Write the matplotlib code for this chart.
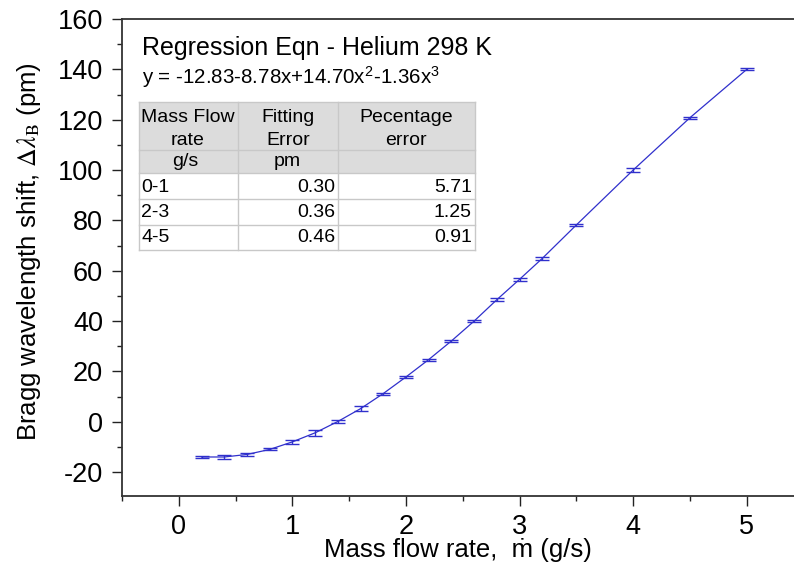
import matplotlib
matplotlib.use("Agg")
import matplotlib.pyplot as plt
from matplotlib.patches import Rectangle
from matplotlib.ticker import MultipleLocator

plt.rcParams['font.family'] = ['Liberation Sans', 'DejaVu Sans']
plt.rcParams['mathtext.fontset'] = 'stix'
plt.rcParams['axes.unicode_minus'] = False

# ---- data ----
mass_flow = [0.2, 0.4, 0.6, 0.8, 1.0, 1.2, 1.4, 1.6, 1.8, 2.0,
             2.2, 2.4, 2.6, 2.8, 3.0, 3.2, 3.5, 4.0, 4.5, 5.0]
shift = [-14.0, -14.0, -13.0, -11.0, -8.0, -4.4, 0.1, 5.2, 11.2, 17.8,
         24.7, 32.1, 40.0, 48.5, 56.6, 64.9, 78.2, 100.0, 120.8, 140.0]
err = [0.3, 0.9, 0.5, 0.4, 0.7, 1.3, 0.5, 0.9, 0.4, 0.4,
       0.4, 0.4, 0.4, 0.5, 0.7, 0.6, 0.5, 0.8, 0.4, 0.4]

title_txt = "Regression Eqn - Helium 298 K"
eqn_txt = r"y = -12.83-8.78x+14.70x$^{\mathdefault{2}}$-1.36x$^{\mathdefault{3}}$"
table_header1 = ["Mass Flow", "Fitting", "Pecentage"]
table_header2 = ["rate", "Error", "error"]
table_units = ["g/s", "pm", ""]
table_ranges = ["0-1", "2-3", "4-5"]
table_fit_err = ["0.30", "0.36", "0.46"]
table_pct_err = ["5.71", "1.25", "0.91"]

W, H = 794, 571
fig = plt.figure(figsize=(W / 100, H / 100), dpi=100)

def fx(px):
    return px / W

def fy(py):
    return 1 - py / H

ax_left, ax_top, ax_bottom = 122, 19, 496
ax_w = 681.6
ax = fig.add_axes([fx(ax_left), fy(ax_bottom), ax_w / W, (ax_bottom - ax_top) / H])

col = '#3030cc'
ax.plot(mass_flow, shift, color=col, lw=0.9)
ax.errorbar(mass_flow, shift, yerr=err, fmt='none', ecolor=col, elinewidth=1.0,
            capsize=5, capthick=1.0)

ax.set_xlim(-0.5, 5.5)
ax.set_ylim(-29.5, 160)
ax.xaxis.set_major_locator(MultipleLocator(1))
ax.xaxis.set_minor_locator(MultipleLocator(0.5))
ax.yaxis.set_major_locator(MultipleLocator(20))
ax.yaxis.set_minor_locator(MultipleLocator(10))
ax.tick_params(which='major', direction='out', length=7, width=1.0, labelsize=19.5,
               color='#222222')
ax.tick_params(axis='y', which='major', pad=6.5)
ax.tick_params(axis='x', which='major', pad=6)
ax.tick_params(which='minor', direction='out', length=3.6, width=1.0, color='#222222')
for s in ax.spines.values():
    s.set_linewidth(1.3)
    s.set_color('#333333')

fig.text(fx(458), fy(557), "Mass flow rate,  ṁ (g/s)", fontsize=18.5,
         ha='center', va='baseline')
fig.text(fx(29), fy(252), r"Bragg wavelength shift, $\Delta\lambda_{\rm B}$ (pm)",
         fontsize=18.5, ha='center', va='center', rotation=90)

# ---- annotation: title and equation ----
fig.text(fx(142), fy(55), title_txt, fontsize=18, ha='left', va='baseline')
fig.text(fx(142), fy(84), eqn_txt, fontsize=14.8, ha='left', va='baseline')

# ---- table ----
col_x = [139, 238, 338, 475]
row_y = [102, 150, 173, 199, 225, 250]
grid_c = '#c8c8c8'
hdr_bg = '#dcdcdc'
fig.add_artist(Rectangle((fx(col_x[0]), fy(row_y[2])), fx(col_x[3] - col_x[0]),
                         (row_y[2] - row_y[0]) / H, transform=fig.transFigure,
                         facecolor=hdr_bg, edgecolor='none'))
for yv in row_y:
    fig.add_artist(plt.Line2D([fx(col_x[0]), fx(col_x[3])], [fy(yv), fy(yv)],
                              transform=fig.transFigure, color=grid_c, lw=1))
for xv in col_x:
    fig.add_artist(plt.Line2D([fx(xv), fx(xv)], [fy(row_y[0]), fy(row_y[-1])],
                              transform=fig.transFigure, color=grid_c, lw=1))

tfs = 14
hdr_cx = [188, 288, 406]
for cx, t1, t2 in zip(hdr_cx, table_header1, table_header2):
    fig.text(fx(cx), fy(122), t1, fontsize=tfs, ha='center', va='baseline')
    fig.text(fx(cx), fy(145), t2, fontsize=tfs, ha='center', va='baseline')
units_cx = [185, 287, 406]
for cx, t in zip(units_cx, table_units):
    fig.text(fx(cx), fy(166), t, fontsize=tfs, ha='center', va='baseline')
data_base = [192, 217, 242]
for yb, r, fe, pe in zip(data_base, table_ranges, table_fit_err, table_pct_err):
    fig.text(fx(141), fy(yb), r, fontsize=tfs, ha='left', va='baseline')
    fig.text(fx(335), fy(yb), fe, fontsize=tfs, ha='right', va='baseline')
    fig.text(fx(472), fy(yb), pe, fontsize=tfs, ha='right', va='baseline')

fig.savefig("out.png", dpi=100)
